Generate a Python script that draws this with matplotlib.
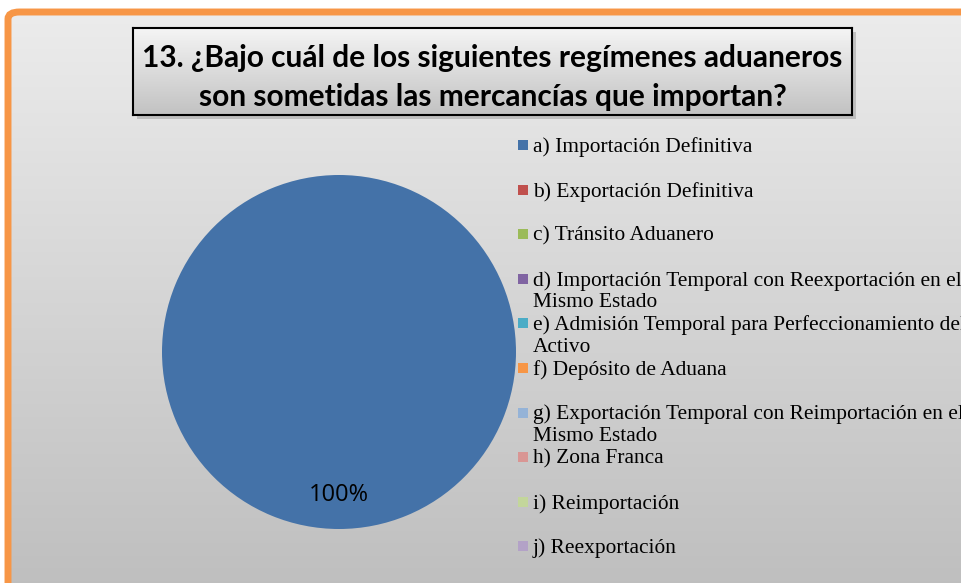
"""Pie chart: regímenes aduaneros (pregunta 13)."""
import numpy as np
import matplotlib
matplotlib.use("Agg")
import matplotlib.pyplot as plt
from matplotlib.patches import FancyBboxPatch, Rectangle

W, H = 961, 583

title = "13. ¿Bajo cuál de los siguientes regímenes aduaneros\nson sometidas las mercancías que importan?"
labels = [
    "a) Importación Definitiva",
    "b) Exportación Definitiva",
    "c) Tránsito Aduanero",
    "d) Importación Temporal con Reexportación en el\nMismo Estado",
    "e) Admisión Temporal para Perfeccionamiento del\nActivo",
    "f) Depósito de Aduana",
    "g) Exportación Temporal con Reimportación en el\nMismo Estado",
    "h) Zona Franca",
    "i) Reimportación",
    "j) Reexportación",
]
values = [100, 0, 0, 0, 0, 0, 0, 0, 0, 0]
colors = ["#4472A8", "#C0504D", "#9BBB59", "#8064A2", "#4BACC6",
          "#F79646", "#95B3D7", "#D99694", "#C3D69B", "#B3A2C7"]


def px(x, y, w, h):
    # pixel box (top-left origin) -> figure fraction
    return [x / W, (H - y - h) / H, w / W, h / H]


fig = plt.figure(figsize=(W / 100, H / 100), dpi=100)
fig.patch.set_facecolor("white")

# background panel with gray gradient
bg = fig.add_axes(px(8, 12, W, H), zorder=0)
grad = np.linspace(0, 1, 256).reshape(-1, 1)
top, bot = np.array([0.925, 0.925, 0.925]), np.array([0.745, 0.745, 0.745])
bg.imshow(top + (bot - top) * grad[..., None], aspect="auto", extent=[0, 1, 0, 1])
bg.set_axis_off()

# orange frame
fig.patches.append(FancyBboxPatch((8 / W, -0.1), 1.2, (H - 12) / H + 0.1,
                                  boxstyle="round,pad=0,rounding_size=0.012",
                                  transform=fig.transFigure, fill=False,
                                  edgecolor="#F79646", linewidth=5, zorder=1))

# title box: shadow, gradient, border
fig.patches.append(Rectangle((137 / W, (H - 119) / H), 719 / W, 87 / H,
                             transform=fig.transFigure, facecolor="#9a9a9a",
                             edgecolor="none", alpha=0.5, zorder=2))
tax = fig.add_axes(px(133, 28, 719, 87), zorder=3)
ttop, tbot = np.array([0.96, 0.96, 0.96]), np.array([0.76, 0.76, 0.76])
tax.imshow(ttop + (tbot - ttop) * grad[..., None], aspect="auto", extent=[0, 1, 0, 1])
tax.set_xticks([])
tax.set_yticks([])
for s in tax.spines.values():
    s.set_linewidth(1.5)
    s.set_color("black")
tax.text(0.5, 0.43, title, ha="center", va="center", fontsize=21.5,
         fontweight="bold", family="Lato", linespacing=1.45, transform=tax.transAxes)

# pie
pax = fig.add_axes(px(162, 175, 354, 354), zorder=4)
pax.pie(values, colors=colors, startangle=90, counterclock=False,
        autopct=lambda p: f"{p:.0f}%" if p > 0 else "", pctdistance=0.81,
        textprops=dict(fontsize=17, family="Open Sans", color="black"),
        wedgeprops=dict(linewidth=0))
pax.set_xlim(-1, 1)
pax.set_ylim(-1, 1)
pax.set_aspect("equal")

# legend (drawn by hand to keep the Excel-like layout)
y0, step = 145, 44.6
for i, (lab, c) in enumerate(zip(labels, colors)):
    y = y0 + i * step
    fig.patches.append(Rectangle((518 / W, (H - y - 5) / H), 10 / W, 10 / H,
                                 transform=fig.transFigure, facecolor=c,
                                 edgecolor="none", zorder=5))
    fig.text(533 / W, (H - y + 8) / H, lab, ha="left", va="top", fontsize=15.4,
             family="Liberation Serif", linespacing=1.2, zorder=6)

fig.savefig("out.png", dpi=100)
